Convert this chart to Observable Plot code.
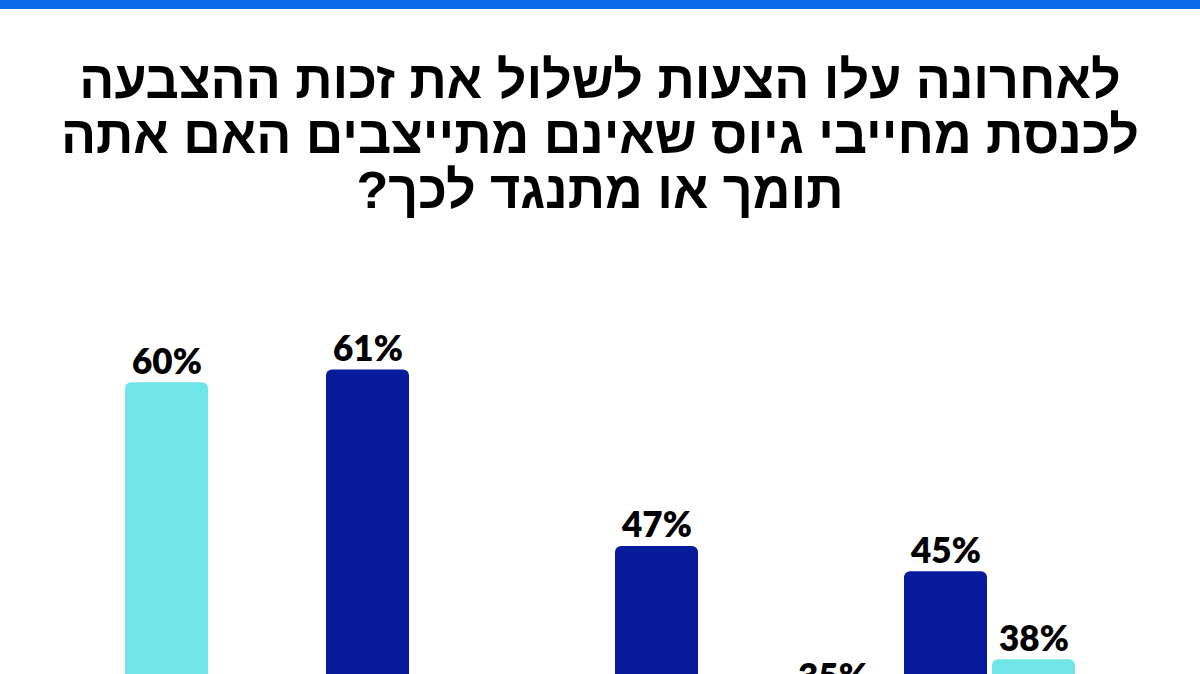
<!DOCTYPE html>
<html>
<head>
<meta charset="utf-8">
<script src="https://cdn.jsdelivr.net/npm/d3@7"></script>
<script src="https://cdn.jsdelivr.net/npm/@observablehq/plot@0.6"></script>
<style>
  html, body { margin: 0; padding: 0; background: #ffffff; overflow: hidden; width: 1200px; height: 674px; }
  #strip { height: 9px; background: #0b6be6; }
  #title { height: 221px; box-sizing: border-box; padding-top: 44px; direction: rtl; text-align: center;
           font-family: "Liberation Sans", Arial, sans-serif; font-weight: 700; font-size: 52px; line-height: 55px; color: #000; }
  #title div { white-space: nowrap; }
  #chart svg { display: block; }
</style>
</head>
<body>
<div id="strip"></div>
<div id="title"></div>
<div id="chart"></div>
<script>
// Title lines
const titleLines = [
  "לאחרונה עלו הצעות לשלול את זכות ההצבעה",
  "לכנסת מחייבי גיוס שאינם מתייצבים האם אתה",
  "תומך או מתנגד לכך?"
];
// Groups (left to right) and answer series
const groups = ["קבוצה 1", "קבוצה 2", "קבוצה 3", "קבוצה 4"];
const series = ["תומך", "מתנגד", "לא יודע"];
// Values (%) per series, one per group
const seriesA = [30, 61, 47, 45];   // dark blue
const seriesB = [60, 29, 18, 38];   // cyan
const seriesC = [10, 10, 35, 17];   // third
const colors = ["#061a9b", "#6ee6e8", "#b8b8c4"];

const tEl = document.getElementById("title");
titleLines.forEach(l => { const d = document.createElement("div"); d.textContent = l; tEl.appendChild(d); });

const data = [];
groups.forEach((g, i) => {
  data.push({group: g, series: series[0], value: seriesA[i]});
  data.push({group: g, series: series[1], value: seriesB[i]});
  data.push({group: g, series: series[2], value: seriesC[i]});
});
// only labels that fall inside the picture
const labelData = data.filter(d => d.value >= 35);

const chart = Plot.plot({
  width: 1200,
  height: 908,
  marginLeft: 0, marginRight: 0, marginTop: 1, marginBottom: 0,
  style: {fontFamily: "Lato, sans-serif", background: "transparent"},
  fx: {domain: groups, axis: null, label: null, paddingInner: 0.104, paddingOuter: 0.1245},
  x: {domain: series, axis: null, label: null, paddingInner: 0.057, paddingOuter: 0},
  y: {domain: [0, 72], axis: null},
  color: {domain: series, range: colors},
  marks: [
    Plot.barY(data, {fx: "group", x: "series", y: "value", fill: "series", rx: 6}),
    Plot.text(labelData, {fx: "group", x: "series", y: "value", text: d => d.value + "%",
      lineAnchor: "bottom", dy: -9, fontSize: 35, fontWeight: 800, fill: "#000"})
  ]
});
document.getElementById("chart").appendChild(chart);
</script>
</body>
</html>
